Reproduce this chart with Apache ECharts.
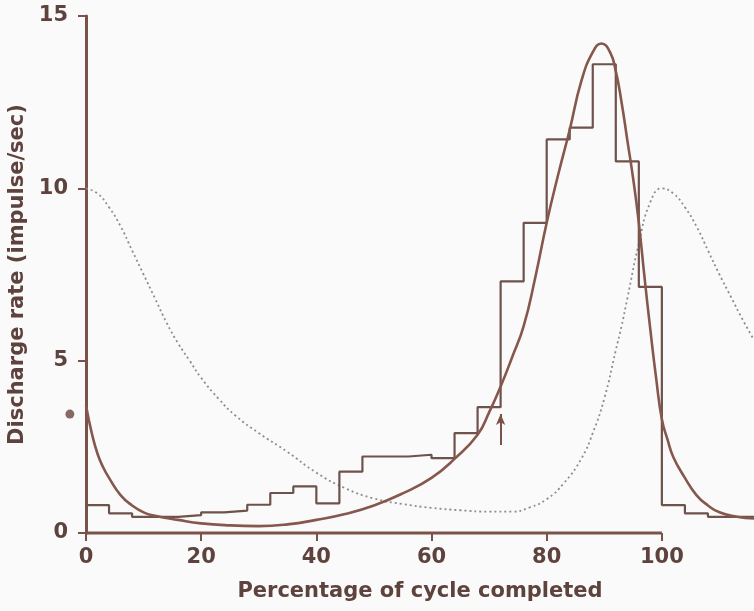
<!DOCTYPE html>
<html>
<head>
<meta charset="utf-8">
<script src="https://cdn.jsdelivr.net/npm/echarts@6/dist/echarts.min.js"></script>
<style>
  html, body { margin: 0; padding: 0; background: #fafafa; }
  #chart { width: 754px; height: 611px; }
</style>
</head>
<body>
<div id="chart"></div>
<script>
// histogram, 4% bins (wraps round past 100)
var binStarts = [0, 4, 8, 12, 16, 20, 24, 28, 32, 36, 40, 44, 48, 52, 56, 60, 64, 68, 72, 76, 80, 84, 88, 92, 96, 100, 104, 108, 112];
var binRates = [0.81, 0.57, 0.47, 0.47, 0.52, 0.6, 0.65, 0.82, 1.16, 1.35, 0.86, 1.78, 2.22, 2.22, 2.27, 2.17, 2.9, 3.65, 7.3, 9.0, 11.42, 11.76, 13.6, 10.78, 7.14, 0.81, 0.57, 0.47, 0.47];
var binEnd = 116;

// fitted curve (solid)
var fitX = [0, 1, 2, 3, 4, 6, 8, 10, 12, 16, 20, 25, 30, 35, 40, 45, 50, 55, 60, 64, 68, 70, 72, 74, 76, 78, 80, 82, 84, 86, 88, 89.5, 91, 92, 93, 94, 95, 96, 97, 98, 99, 100, 101, 102, 104, 106, 108, 110, 113, 116];
var fitY = [3.7, 2.9, 2.3, 1.9, 1.6, 1.1, 0.8, 0.6, 0.5, 0.38, 0.28, 0.22, 0.2, 0.25, 0.38, 0.55, 0.8, 1.15, 1.6, 2.15, 2.85, 3.5, 4.25, 5.1, 6.0, 7.4, 9.0, 10.4, 11.7, 13.1, 13.95, 14.2, 13.95, 13.4, 12.5, 11.4, 10.3, 9.0, 7.4, 5.9, 4.5, 3.3, 2.7, 2.2, 1.6, 1.1, 0.8, 0.6, 0.47, 0.42];

// dotted curve
var dotX = [0, 2, 4, 6, 8, 10, 12, 14, 16, 18, 20, 23, 26, 30, 35, 40, 45, 50, 55, 60, 65, 70, 74, 77, 80, 83, 86, 88, 90, 92, 93, 94, 96, 98, 100, 102, 104, 106, 108, 110, 112, 114, 116];
var dotY = [10, 9.85, 9.45, 8.9, 8.2, 7.5, 6.8, 6.1, 5.5, 5.0, 4.5, 3.9, 3.4, 2.9, 2.35, 1.75, 1.3, 1.0, 0.84, 0.73, 0.66, 0.62, 0.62, 0.74, 0.98, 1.45, 2.15, 2.9, 3.9, 5.3, 6.0, 6.8, 8.4, 9.6, 10.0, 9.85, 9.45, 8.9, 8.2, 7.5, 6.85, 6.2, 5.6];

var startDot = [-2.8, 3.45];
var arrowFrom = [72, 2.55];
var arrowTo = [72, 3.45];

var xTicks = [0, 20, 40, 60, 80, 100];

var brown = '#7b5249';
var textCol = '#5e423d';

var histData = binStarts.map(function (x, i) { return [x, binRates[i]]; });
histData.push([binEnd, binRates[binRates.length - 1]]);

var chart = echarts.init(document.getElementById('chart'));
chart.setOption({
    backgroundColor: '#fafafa',
    animation: false,
    grid: {left: 86, right: 0, top: 16, bottom: 78, outerBoundsMode: 'none'},
    xAxis: {
        type: 'value',
        min: 0,
        max: binEnd,
        name: 'Percentage of cycle completed',
        nameLocation: 'middle',
        nameGap: 48,
        nameTextStyle: {color: textCol, fontSize: 21, fontWeight: 'bold', fontFamily: 'DejaVu Sans'},
        axisLine: {show: false},
        axisTick: {show: true, customValues: xTicks, length: 8, lineStyle: {color: brown, width: 2}},
        axisLabel: {customValues: xTicks, margin: 14, color: textCol, fontSize: 21, fontWeight: 'bold', fontFamily: 'DejaVu Sans'},
        splitLine: {show: false}
    },
    yAxis: {
        type: 'value',
        min: 0,
        max: 15,
        interval: 5,
        name: 'Discharge rate (impulse/sec)',
        nameLocation: 'middle',
        nameGap: 57,
        nameTextStyle: {color: textCol, fontSize: 21, fontWeight: 'bold', fontFamily: 'DejaVu Sans'},
        axisLine: {show: true, lineStyle: {color: brown, width: 3}},
        axisTick: {show: true, length: 8, lineStyle: {color: brown, width: 2}},
        axisLabel: {margin: 18, color: textCol, fontSize: 21, fontWeight: 'bold', fontFamily: 'DejaVu Sans'},
        splitLine: {show: false}
    },
    series: [
        {
            // x axis line, drawn only over 0..100
            type: 'line',
            data: [[xTicks[0], 0], [xTicks[xTicks.length - 1], 0]],
            symbol: 'none',
            clip: false,
            silent: true,
            lineStyle: {color: brown, width: 3}
        },
        {
            name: 'dotted',
            type: 'line',
            data: dotX.map(function (x, i) { return [x, dotY[i]]; }),
            smooth: 0.5,
            symbol: 'none',
            lineStyle: {color: '#8c8c8c', width: 1.8, type: [2, 3]}
        },
        {
            name: 'histogram',
            type: 'line',
            step: 'end',
            data: histData,
            symbol: 'none',
            lineStyle: {color: '#6e524c', width: 2.2},
            markLine: {
                silent: true,
                symbol: ['none', 'arrow'],
                symbolSize: [7, 11],
                label: {show: false},
                lineStyle: {color: brown, width: 2, type: 'solid'},
                data: [[{coord: arrowFrom}, {coord: arrowTo}]]
            }
        },
        {
            name: 'fit',
            type: 'line',
            data: fitX.map(function (x, i) { return [x, fitY[i]]; }),
            smooth: 0.5,
            symbol: 'none',
            lineStyle: {color: '#85574d', width: 2.6}
        },
        {
            type: 'scatter',
            data: [startDot],
            clip: false,
            symbolSize: 9,
            itemStyle: {color: '#6b4440'}
        }
    ]
});
</script>
</body>
</html>
